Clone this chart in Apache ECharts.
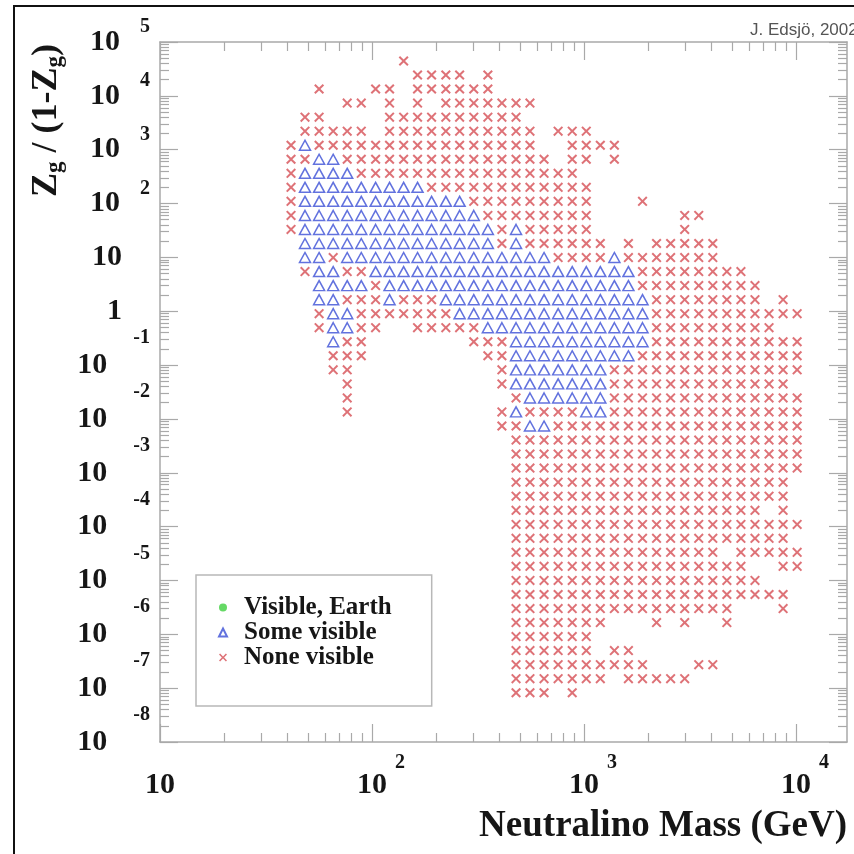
<!DOCTYPE html>
<html lang="en">
<head>
<meta charset="utf-8">
<title>Zg/(1-Zg) vs neutralino mass</title>
<script src="https://cdn.jsdelivr.net/npm/echarts@6/dist/echarts.min.js"></script>
<style>
  html, body { margin: 0; padding: 0; background: #fff; }
  #chart { width: 854px; height: 854px; }
</style>
</head>
<body>
<div id="chart"></div>
<script>
// neutralino mass of each scan column (GeV), left to right
var masses = [41.5, 48.3, 56.3, 65.6, 76.4, 89.0, 104, 121, 141, 164, 191, 223, 259,
  302, 352, 410, 478, 556, 648, 755, 880, 1025, 1194, 1391, 1620, 1888, 2199, 2562,
  2985, 3477, 4051, 4719, 5498, 6405, 7461, 8692, 10125];

// Zg/(1-Zg) of each scan row, top to bottom
var zRows = [4.44e4, 2.44e4, 1.34e4, 7.33e3, 4.02e3, 2.21e3, 1.21e3, 664, 364, 200,
  110, 60.1, 33.0, 18.1, 9.93, 5.45, 2.99, 1.64, 0.900, 0.494, 0.271, 0.149, 0.0815,
  0.0447, 0.0245, 0.0135, 7.39e-3, 4.05e-3, 2.22e-3, 1.22e-3, 6.69e-4, 3.67e-4,
  2.01e-4, 1.10e-4, 6.06e-5, 3.33e-5, 1.83e-5, 1.00e-5, 5.49e-6, 3.01e-6, 1.65e-6,
  9.07e-7, 4.98e-7, 2.73e-7, 1.50e-7, 8.22e-8];

// what each grid cell shows: x = none visible, a = some visible, . = nothing
var scanRows = [
  '........x',
  '.........xxxx.x',
  '..x...xx.xxxxxx',
  '....xx.x.x.xxxxxxx',
  '.xx....xxxxxxxxxx',
  '.xxxxx.xxxxxxxxxxx.xxx',
  'xaxxxxxxxxxxxxxxxx..xxxx',
  'xxaaxxxxxxxxxxxxxxx.xx.x',
  'xaaaaxxxxxxxxxxxxxxxx',
  'xaaaaaaaaaxxxxxxxxxxxx',
  'xaaaaaaaaaaaaxxxxxxxxx...x',
  'xaaaaaaaaaaaaaxxxxxxxx......xx',
  'xaaaaaaaaaaaaaaxaxxxxx......x',
  '.aaaaaaaaaaaaaaxaxxxxxx.x.xxxxx',
  '.aaxaaaaaaaaaaaaaaaxxxxaxxxxxxx',
  '.xaaxxaaaaaaaaaaaaaaaaaaaxxxxxxxx',
  '..aaaaxaaaaaaaaaaaaaaaaaaxxxxxxxxx',
  '..aaxxxaxxxaaaaaaaaaaaaaaaxxxxxxxx.x',
  '..xaaxxxxxxxaaaaaaaaaaaaaaxxxxxxxxxxx',
  '..xaaxx..xxxxxaaaaaaaaaaaaxxxxxxxxx',
  '...axx.......xxxaaaaaaaaaaxxxxxxxxxxx',
  '...xxx........xxaaaaaaaaaxxxxxxxxxxxx',
  '...xx..........xaaaaaaaxxxxxxxxxxxxxx',
  '....x..........xaaaaaaaxxxxxxxxxxxxx',
  '....x...........xaaaaaaxxxxxxxxxxxxxx',
  '....x..........xaxxxxaaxxxxxxxxxxxxxx',
  '...............xxaaxxxxxxxxxxxxxxxxxx',
  '................xxxxxxxxxxxxxxxxxxxxx',
  '................xxxxxxxxxxxxxxxxxxxxx',
  '................xxxxxxxxxxxxxxxxxxxxx',
  '................xxxxxxxxxxxxxxxxxxxx',
  '................xxxxxxxxxxxxxxxxxxxx',
  '................xxxxxxxxxxxxxxxxxx.x',
  '................xxxxxxxxxxxxxxxxxxxxx',
  '................xxxxxxxxxxxxxxxxxxxx',
  '................xxxxxxxxxxxxxxx.xxxxx',
  '................xxxxxxxxxxxxxxxxx..xx',
  '................xxxxxxxxxxxxxxxxxx',
  '................xxxxxxxxxxxxxxxxxxxx',
  '................xxxxxxxxxxxxxxxx...x',
  '................xxxxxxx...x.x..x',
  '................xxxxxx',
  '................xxxxxx.xx',
  '................xxxxxxxxxx...xx',
  '................xxxxxxx.xxxxx',
  '................xxx.x'
];

// no model in this scan is visible from the Earth
var visibleEarth = [];

var xMajor = [10, 100, 1000, 10000];
var yMajor = [1e-8, 1e-7, 1e-6, 1e-5, 1e-4, 1e-3, 1e-2, 1e-1, 1, 10, 100, 1e3, 1e4, 1e5];

var someVisible = [];
var noneVisible = [];
scanRows.forEach(function (row, r) {
  for (var c = 0; c < row.length && c < masses.length; c++) {
    if (row[c] === 'a') someVisible.push([masses[c], zRows[r]]);
    if (row[c] === 'x') noneVisible.push([masses[c], zRows[r]]);
  }
});

// 2..9 sub-decade ticks
function minorTicks(fromExp, toExp) {
  var out = [];
  for (var p = fromExp; p < toExp; p++) {
    for (var m = 2; m <= 9; m++) out.push(m * Math.pow(10, p));
  }
  return out;
}
var xMinor = minorTicks(1, 4);
var yMinor = minorTicks(-8, 5);

var GRAY = '#a9a9a9';
var INK = '#161616';
var RED = '#d64f55';
var BLUE = '#3b4fd6';
var SERIF = '"Liberation Serif", "Times New Roman", serif';
var CROSS = 'path://M0,1.4 L1.4,0 L5,3.6 L8.6,0 L10,1.4 L6.4,5 L10,8.6 L8.6,10 L5,6.4 L1.4,10 L0,8.6 L3.6,5 Z';

function tickAxis(min, max, position, values, len, withLine) {
  return {
    type: 'log', logBase: 10, min: min, max: max, position: position,
    axisLine: { show: withLine, lineStyle: { color: GRAY, width: 1.5 } },
    axisTick: { show: true, inside: true, length: len, customValues: values,
      lineStyle: { color: GRAY, width: 1.2 } },
    axisLabel: { show: false },
    splitLine: { show: false }
  };
}

var xMin = 10, xMax = 17400, yMin = 1e-8, yMax = 1e5;

var xMain = tickAxis(xMin, xMax, 'bottom', xMajor, 18, true);
xMain.axisLabel = {
  show: true, margin: 11, customValues: xMajor,
  formatter: function (v) {
    var k = Math.round(Math.log10(v));
    return k === 1 ? '{b|10}' : '{l|\u00a0}{b|10}{e|' + k + '}';
  },
  rich: {
    b: { fontFamily: SERIF, fontWeight: 'bold', fontSize: 30, color: INK, lineHeight: 64 },
    e: { fontFamily: SERIF, fontWeight: 'bold', fontSize: 20, color: INK, padding: [0, 0, 44, 8] },
    l: { width: 18 }
  }
};
xMain.name = 'Neutralino Mass (GeV)';
xMain.nameLocation = 'end';
xMain.nameGap = 0;
xMain.nameMoveOverlap = false;
xMain.nameTextStyle = {
  fontFamily: SERIF, fontWeight: 'bold', fontSize: 37, color: INK,
  align: 'right', verticalAlign: 'top', padding: [66, 0, 0, 0]
};

var yMain = tickAxis(yMin, yMax, 'left', yMajor, 18, true);
yMain.axisLabel = {
  show: true, margin: 10, customValues: yMajor,
  formatter: function (v) {
    var k = Math.round(Math.log10(v));
    if (k === 0) return '{b|1}{g|\u00a0}';
    if (k === 1) return '{b|10}{g|\u00a0}';
    if (k > 1) return '{b|10}{e|' + k + '}';
    return '{b|10}{n|' + k + '}';
  },
  rich: {
    b: { fontFamily: SERIF, fontWeight: 'bold', fontSize: 30, color: INK, lineHeight: 30 },
    e: { fontFamily: SERIF, fontWeight: 'bold', fontSize: 20, color: INK, padding: [0, 0, 30, 20] },
    n: { fontFamily: SERIF, fontWeight: 'bold', fontSize: 20, color: INK, padding: [0, 0, 54, 26] },
    g: { width: 28 }
  }
};
yMain.name = '{b|Z}{s|g}{b| / (1-Z}{s|g}{b|)}';
yMain.nameLocation = 'end';
yMain.nameGap = -2;
yMain.nameRotate = 90;
yMain.nameMoveOverlap = false;
yMain.nameTextStyle = {
  align: 'right', verticalAlign: 'bottom', padding: [0, 0, 93, 0],
  rich: {
    b: { fontFamily: SERIF, fontWeight: 'bold', fontSize: 36, color: INK },
    s: { fontFamily: SERIF, fontWeight: 'bold', fontSize: 23, color: INK, padding: [17, 0, 0, 0] }
  }
};

var chart = echarts.init(document.getElementById('chart'));
chart.setOption({
  animation: false,
  backgroundColor: '#fff',
  grid: { left: 160, right: 7, top: 42, bottom: 112 },
  xAxis: [
    xMain,
    tickAxis(xMin, xMax, 'bottom', xMinor, 9, false),
    tickAxis(xMin, xMax, 'top', xMajor, 18, true),
    tickAxis(xMin, xMax, 'top', xMinor, 9, false)
  ],
  yAxis: [
    yMain,
    tickAxis(yMin, yMax, 'left', yMinor, 9, false),
    tickAxis(yMin, yMax, 'right', yMajor, 18, true),
    tickAxis(yMin, yMax, 'right', yMinor, 9, false)
  ],
  legend: {
    orient: 'vertical', left: 196, top: 575,
    padding: [20, 40, 36, 22],
    itemGap: 0, itemWidth: 8, itemHeight: 8,
    backgroundColor: '#fff', borderColor: '#b8b8b8', borderWidth: 1.5,
    selectedMode: false,
    textStyle: { fontFamily: SERIF, fontWeight: 'bold', fontSize: 25, color: INK,
      lineHeight: 25, padding: [0, 0, 0, 12] },
    data: ['Visible, Earth', 'Some visible', 'None visible']
  },
  graphic: [
    { type: 'rect', silent: true, shape: { x: 14, y: 6, width: 1000, height: 1000 },
      style: { fill: 'none', stroke: '#111', lineWidth: 2 } },
    { type: 'text', left: 750, top: 22, silent: true,
      style: { text: 'J. Edsjö, 2002', font: '17px "Liberation Sans"', fill: '#555' } }
  ],
  series: [
    { name: 'Visible, Earth', type: 'scatter', symbol: 'circle', symbolSize: 8,
      itemStyle: { color: '#3fcf3f' }, data: visibleEarth },
    { name: 'Some visible', type: 'scatter', symbol: 'triangle', symbolSize: [11, 10],
      itemStyle: { color: 'rgba(255,255,255,0)', borderColor: BLUE, borderWidth: 1.5 },
      data: someVisible },
    { name: 'None visible', type: 'scatter', symbol: CROSS, symbolSize: 10,
      itemStyle: { color: RED }, data: noneVisible }
  ]
});
</script>
</body>
</html>
